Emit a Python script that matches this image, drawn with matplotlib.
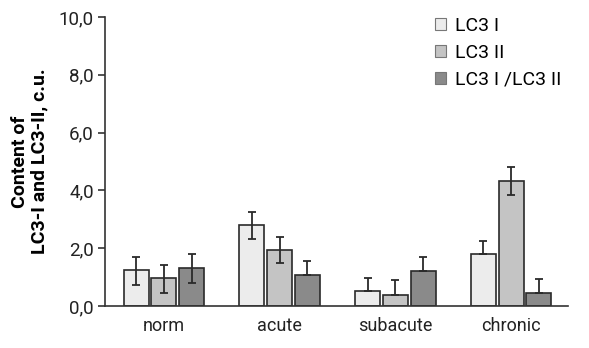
import matplotlib
matplotlib.use("Agg")
import matplotlib.pyplot as plt
import numpy as np

categories = ["norm", "acute", "subacute", "chronic"]
series_names = ["LC3 I", "LC3 II", "LC3 I /LC3 II"]
lc3_i = [1.25, 2.80, 0.51, 1.78]
lc3_ii = [0.98, 1.94, 0.38, 4.31]
ratio = [1.31, 1.07, 1.20, 0.45]
lc3_i_err_lo = [0.52, 0.47, 0.0, 0.0]
lc3_i_err_hi = [0.45, 0.45, 0.46, 0.45]
lc3_ii_err_lo = [0.55, 0.45, 0.0, 0.48]
lc3_ii_err_hi = [0.44, 0.44, 0.52, 0.51]
ratio_err_lo = [0.52, 0.0, 0.0, 0.0]
ratio_err_hi = [0.49, 0.50, 0.50, 0.48]

colors = ["#ececec", "#c4c4c4", "#8a8a8a"]
plt.rcParams["font.family"] = ["Roboto", "DejaVu Sans"]

fig = plt.figure(figsize=(5.89, 3.48), dpi=100)
ax = fig.add_axes([0.178, 0.121, 0.786, 0.830])

x = np.arange(len(categories))
width = 0.215
offset = 0.24
values = [lc3_i, lc3_ii, ratio]
errs = [(lc3_i_err_lo, lc3_i_err_hi), (lc3_ii_err_lo, lc3_ii_err_hi), (ratio_err_lo, ratio_err_hi)]
for k, (vals, err, color, name) in enumerate(zip(values, errs, colors, series_names)):
    ax.bar(x + (k - 1) * offset, vals, width, color=color, edgecolor="#2a2a2a",
           linewidth=1.2, label=name, zorder=2)
    ax.errorbar(x + (k - 1) * offset, vals, yerr=[err[0], err[1]], fmt="none",
                ecolor="#2a2a2a", elinewidth=1.3, capsize=3, capthick=1.3, zorder=3)

ax.set_xlim(-0.51, 3.49)
ax.set_ylim(0, 10)
ax.set_xticks(x)
ax.set_xticklabels(categories, fontsize=13, color="#222222")
ax.tick_params(axis="x", length=0, pad=8)
ax.set_yticks(np.arange(0, 10.1, 2))
ax.set_yticklabels([f"{v:.1f}".replace(".", ",") for v in np.arange(0, 10.1, 2)], fontsize=13.5)
ax.tick_params(axis="y", length=5, width=1.2, direction="out", colors="#333333",
               labelcolor="#222222", pad=3)
for side in ("top", "right"):
    ax.spines[side].set_visible(False)
for side in ("left", "bottom"):
    ax.spines[side].set_linewidth(1.2)
    ax.spines[side].set_color("#333333")

ax.set_ylabel("Content of\nLC3-I and LC3-II, c.u.", fontsize=14, fontweight="bold",
              labelpad=7, linespacing=1.15)

leg = ax.legend(loc="upper right", bbox_to_anchor=(1.025, 1.06), frameon=False, fontsize=14,
                handlelength=0.55, handleheight=0.55, handletextpad=0.5, labelspacing=0.45)
for patch in leg.get_patches():
    patch.set_edgecolor("#777777")
    patch.set_linewidth(0.8)

fig.savefig("out.png", dpi=100)
